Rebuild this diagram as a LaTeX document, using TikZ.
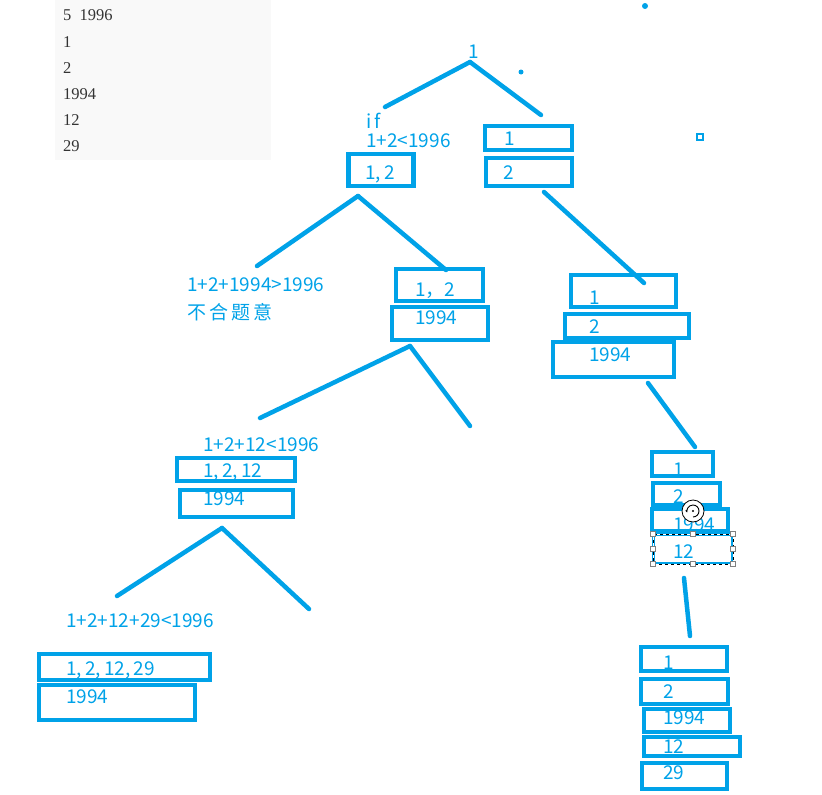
\documentclass[tikz,border=0pt]{standalone}
\usepackage{fontspec}
\setmainfont{Liberation Serif}
\newfontfamily\cjkfont{Noto Sans CJK SC}
\usepackage{tikz}
\usetikzlibrary{arrows.meta}
\definecolor{paintblue}{HTML}{00A2E8}
\definecolor{notegray}{HTML}{F9F9F9}
\definecolor{notetext}{HTML}{333333}
\tikzstyle{numbox} = [rectangle, draw=paintblue, line width=4.5pt, inner sep=0pt]
\tikzstyle{numtext} = [text=paintblue, font=\cjkfont\fontsize{19}{19}\selectfont,
    anchor=west, inner sep=0pt]
\tikzstyle{branch} = [draw=paintblue, line width=4.5pt, line cap=round]
\tikzstyle{note} = [text=notetext, font=\fontsize{16.5}{16.5}\selectfont,
    anchor=west, inner sep=0pt]
\tikzstyle{handle} = [rectangle, draw=gray, fill=white, line width=0.6pt,
    minimum size=5pt, inner sep=0pt]

\begin{document}
\begin{tikzpicture}[x=1pt, y=-1pt]
  \useasboundingbox (0,0) rectangle (822,795);

  \fill[notegray] (55,0) rectangle (271,160);
  \node (in1) [note] at (63,15)  {5\ \ 1996};
  \node (in2) [note] at (63,42)  {1};
  \node (in3) [note] at (63,68)  {2};
  \node (in4) [note] at (63,94)  {1994};
  \node (in5) [note] at (63,120) {12};
  \node (in6) [note] at (63,146) {29};

  \node (top) [numtext, anchor=center] at (474,52) {1};

  \node (cond1a) [numtext] at (366,121) {i\,f};
  \node (cond1b) [numtext] at (366,141) {1+2<1996};
  \node (lb)  [numbox, minimum width=65pt, minimum height=32pt] at (381,170) {};
  \node (lbt) [numtext] at (365,174) {1,\,2};

  \node (rb1)  [numbox, minimum width=87pt, minimum height=24pt] at (528.5,138) {};
  \node (rb1t) [numtext] at (504,139) {1};
  \node (rb2)  [numbox, minimum width=86pt, minimum height=28pt] at (529,172) {};
  \node (rb2t) [numtext] at (503,173) {2};

  \node (cond2a) [numtext] at (187,285) {1+2+1994>1996};
  \node (cond2b) [numtext] at (187,312) {不\,合\,题\,意};

  \node (mb1)  [numbox, minimum width=87pt, minimum height=32pt] at (439.5,285) {};
  \node (mb1t) [numtext] at (415,291) {1，2};
  \node (mb2)  [numbox, minimum width=96pt, minimum height=33pt] at (440,323.5) {};
  \node (mb2t) [numtext] at (415,318) {1994};

  \node (cb1)  [numbox, minimum width=105pt, minimum height=32pt] at (623.5,291) {};
  \node (cb1t) [numtext] at (589,298) {1};
  \node (cb2)  [numbox, minimum width=124pt, minimum height=24pt] at (627,326) {};
  \node (cb2t) [numtext] at (589,327) {2};
  \node (cb3)  [numbox, minimum width=121pt, minimum height=35pt] at (613.5,359.5) {};
  \node (cb3t) [numtext] at (589,355) {1994};

  \node (cond3) [numtext] at (203,445) {1+2+12<1996};
  \node (lc1)  [numbox, minimum width=118pt, minimum height=23pt] at (236,469.5) {};
  \node (lc1t) [numtext] at (203,472) {1,\,2,\,12};
  \node (lc2)  [numbox, minimum width=113pt, minimum height=27pt] at (236.5,503.5) {};
  \node (lc2t) [numtext] at (203,499) {1994};

  \node (cond4) [numtext] at (66,621) {1+2+12+29<1996};
  \node (ll1)  [numbox, minimum width=171pt, minimum height=26pt] at (124.5,667) {};
  \node (ll1t) [numtext] at (66,670) {1,\,2,\,12,\,29};
  \node (ll2)  [numbox, minimum width=156pt, minimum height=35pt] at (117,702.5) {};
  \node (ll2t) [numtext] at (66,697) {1994};

  \node (rc1)  [numbox, minimum width=61pt, minimum height=24pt] at (682.5,464) {};
  \node (rc1t) [numtext] at (673,470) {1};
  \node (rc2)  [numbox, minimum width=67pt, minimum height=22pt] at (686.5,494) {};
  \node (rc2t) [numtext] at (673,497) {2};
  \node (rc3)  [numbox, minimum width=76pt, minimum height=22pt] at (690,520) {};
  \node (rc3t) [numtext] at (673,525) {1994};
  \node (rc4)  [numbox, line width=3pt, minimum width=79pt, minimum height=29pt] at (693,549) {};
  \node (rc4t) [numtext] at (673,552) {12};

  \draw[white, line width=1pt] (653,534) rectangle (733,564);
  \draw[black, line width=1pt, dashed] (653,534) rectangle (733,564);
  \foreach \hx/\hy [count=\i] in {653/534, 693/534, 733/534, 653/549,
                                  733/549, 653/564, 693/564, 733/564}
    \node (h\i) [handle] at (\hx,\hy) {};
  \node (rot) [circle, draw=black, fill=white, line width=0.8pt,
        minimum size=22pt, inner sep=0pt] at (693,511) {};
  \draw[black, line width=0.9pt, -{Latex[length=3pt]}]
        ([shift={(90:6)}]rot.center) arc[start angle=90, end angle=-200, radius=6];
  \fill[black] (rot.center) circle (1.2);

  \node (rd1)  [numbox, minimum width=86pt, minimum height=24pt] at (684,659) {};
  \node (rd1t) [numtext] at (663,663) {1};
  \node (rd2)  [numbox, minimum width=87pt, minimum height=25pt] at (684.5,691.5) {};
  \node (rd2t) [numtext] at (663,692) {2};
  \node (rd3)  [numbox, minimum width=86pt, minimum height=23pt] at (687,720.5) {};
  \node (rd3t) [numtext] at (663,718) {1994};
  \node (rd4)  [numbox, minimum width=96pt, minimum height=19pt] at (692,746.5) {};
  \node (rd4t) [numtext] at (663,747) {12};
  \node (rd5)  [numbox, minimum width=85pt, minimum height=26pt] at (684.5,776) {};
  \node (rd5t) [numtext] at (663,773) {29};

  \coordinate (f0)  at (470,62);
  \coordinate (f0l) at (385,107);
  \coordinate (f0r) at (541,115);
  \coordinate (f1)  at (358,196);
  \coordinate (f1l) at (257,266);
  \coordinate (f1r) at (446,270);
  \coordinate (g1)  at (544,192);
  \coordinate (g1e) at (644,283);
  \coordinate (f2)  at (410,346);
  \coordinate (f2l) at (260,418);
  \coordinate (f2r) at (470,426);
  \coordinate (g2)  at (648,383);
  \coordinate (g2e) at (695,447);
  \coordinate (f3)  at (222,528);
  \coordinate (f3l) at (117,596);
  \coordinate (f3r) at (309,609);
  \coordinate (g3)  at (684,578);
  \coordinate (g3e) at (690,636);

  \foreach \a/\b in {f0/f0l, f0/f0r, f1/f1l, f1/f1r, g1/g1e, f2/f2l,
                      f2/f2r, g2/g2e, f3/f3l, f3/f3r, g3/g3e}
    \draw[branch] (\a) -- (\b);

  \fill[paintblue] (521,72) circle (2.5);
  \fill[paintblue] (645,6) circle (3);
  \draw[paintblue, line width=2pt] (697,134) rectangle (703,140);

\end{tikzpicture}
\end{document}
